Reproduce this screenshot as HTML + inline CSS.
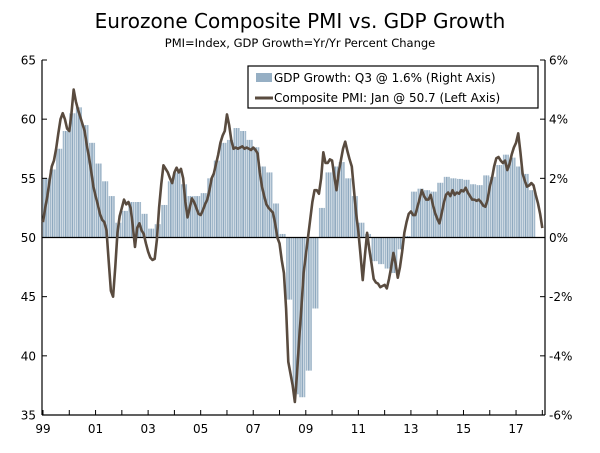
<!DOCTYPE html>
<html><head><meta charset="utf-8"><style>
body{margin:0;background:#fff;}
svg{display:block;font-family:"DejaVu Sans","Liberation Sans",sans-serif;}
</style></head><body>
<svg id="chart" width="600" height="453" viewBox="0 0 600 453">
<text x="300" y="28" text-anchor="middle" font-size="20" fill="#000">Eurozone Composite PMI vs. GDP Growth</text>
<text x="300" y="47" text-anchor="middle" font-size="11.5" fill="#000">PMI=Index, GDP Growth=Yr/Yr Percent Change</text>
<g id="bars"></g>
<g id="axes"></g>
<path id="pmi" fill="none" stroke="#594b3f" stroke-width="2.6" stroke-linejoin="round"/>
<g>
<rect x="248" y="66" width="290" height="42" fill="#fff" stroke="#000" stroke-width="1.2"/>
<rect x="256" y="73" width="16" height="9" fill="#96afc4"/>
<text x="274" y="82" font-size="12">GDP Growth: Q3 @ 1.6% (Right Axis)</text>
<line x1="255" y1="98" x2="273" y2="98" stroke="#594b3f" stroke-width="3"/>
<text x="274" y="102" font-size="12">Composite PMI: Jan @ 50.7 (Left Axis)</text>
</g>
</svg>
<script>
const pmiValues=[
51.3,52.5,53.5,54.8,56,56.5,57.5,58.8,60,60.5,60,59.2,
59,60.5,62.5,61.5,60.8,60.2,59.6,59,57.8,56.8,55.6,54.3,
53.5,52.8,52,51.5,51.3,50.6,48,45.5,45,47.5,50.4,51.8,
52.5,53.2,52.8,53,52.5,51,49.2,50.8,51.2,50.6,50.3,49.5,
48.8,48.3,48.1,48.2,49.8,52.5,54.5,56.1,55.8,55.5,55,54.6,
55.5,55.9,55.5,55.8,55,53,51.7,52.5,53.3,53,52.5,52,
51.9,52.3,52.8,53.2,54,55,55.4,56.2,57,58,58.6,59,
60.4,59.5,58.2,57.5,57.6,57.5,57.6,57.7,57.5,57.6,57.5,57.4,
57.6,57.4,57.1,55.5,54.3,53.5,52.8,52.5,52.3,52.1,51.2,50,
49.5,48.1,47,44,39.5,38.5,37.5,36.1,38.5,41.5,44.1,47,
48.5,50,51.5,53,54,54,53.7,55,57.2,56.3,56.3,56.6,
56.5,55.2,54,55.5,56.5,57.5,58.1,57.3,56.6,56,54,52,
50.5,48.5,46.4,48.5,50.4,49,47.8,46.5,46.2,46.1,45.8,45.9,
46,45.7,46.5,47.5,48.7,47.8,46.6,47.5,48.8,50.4,51.3,52,
52.2,51.9,51.9,52.6,53.3,54,53.5,53.2,53.2,53.6,52.8,52.1,
51.6,51.2,52,52.9,53.6,53.8,53.5,54,53.6,53.8,53.7,54,
53.9,54.2,53.8,53.5,53.2,53.2,53.1,53.2,53,52.7,52.6,53.2,
54.3,55,56,56.7,56.8,56.5,56.3,56.5,55.7,56.2,57,57.6,
58,58.8,57.2,55.4,54.8,54.3,54.4,54.6,54.4,53.6,52.9,52,
50.8];
const gdpValues=[
2.0,2.3,3.0,3.6,4.2,4.4,3.8,3.2,2.5,1.9,1.4,0.5,
0.9,1.2,1.2,0.8,0.3,0.45,1.1,1.9,2.2,1.8,1.4,1.4,
1.5,2.0,2.6,3.2,3.3,3.7,3.6,3.3,3.05,2.4,2.2,1.15,
0.12,-2.1,-5.3,-5.4,-4.5,-2.4,1.0,2.2,2.4,2.55,2.0,1.4,
0.5,0.12,-0.8,-0.9,-1.05,-1.2,-0.4,0.05,1.55,1.65,1.6,1.55,
1.85,2.05,2.0,1.98,1.95,1.8,1.77,2.1,2.05,2.45,2.8,2.7,
2.4,2.15,1.6];
const leftTicks=[35,40,45,50,55,60,65];
const rightTicks=[-6,-4,-2,0,2,4,6];
const yearLabels=["99","01","03","05","07","09","11","13","15","17"];

const X0=43,PX_M=2.19,TOP=60,BOT=415,L=42,R=545;
const xM=m=>X0+m*PX_M;
const yL=v=>TOP+(65-v)*(BOT-TOP)/30;
const yR=v=>TOP+(6-v)*(BOT-TOP)/12;
const NS="http://www.w3.org/2000/svg";
function mk(tag,attrs,parent){const e=document.createElementNS(NS,tag);for(const k in attrs)e.setAttribute(k,attrs[k]);parent.appendChild(e);return e;}

const bars=document.getElementById('bars');
gdpValues.forEach((v,q)=>{
  for(let k=0;k<3;k++){
    const m=q*3+k;
    const x=xM(m);
    const y0=yR(0),y1=yR(v);
    const r=mk('rect',{x:x.toFixed(2),y:Math.min(y0,y1).toFixed(2),width:1.7,height:Math.abs(y1-y0).toFixed(2),fill:k==1?'#8fa9bf':'#a3b9cb'},bars);
    
    
  }
});

const ax=document.getElementById('axes');
let a=mk('line',{x1:L,y1:TOP,x2:L,y2:BOT,stroke:'#000','stroke-width':1.2},ax);

a=mk('line',{x1:R,y1:TOP,x2:R,y2:BOT,stroke:'#000','stroke-width':1.2},ax);

a=mk('line',{x1:L,y1:BOT,x2:R,y2:BOT,stroke:'#000','stroke-width':1.2},ax);

a=mk('line',{x1:L,y1:yR(0),x2:R,y2:yR(0),stroke:'#000','stroke-width':1.2},ax);

leftTicks.forEach(v=>{
  const y=yL(v);
  const t=mk('line',{x1:L,y1:y,x2:L+5,y2:y,stroke:'#000'},ax);
  
  const tx=mk('text',{x:L-6,y:y+4.5,'text-anchor':'end','font-size':12},ax);tx.textContent=v;
  
});
rightTicks.forEach(v=>{
  const y=yR(v);
  const t=mk('line',{x1:R-5,y1:y,x2:R,y2:y,stroke:'#000'},ax);
  
  const tx=mk('text',{x:R+4,y:y+4.5,'font-size':12},ax);tx.textContent=v+'%';
  
});
for(let yr=0;yr<=19;yr++){
  const x=xM(yr*12);
  const t=mk('line',{x1:x,y1:BOT,x2:x,y2:BOT-5,stroke:'#000'},ax);
  
}
yearLabels.forEach((lab,i)=>{
  const x=xM(i*24);
  const tx=mk('text',{x:x,y:BOT+18,'text-anchor':'middle','font-size':12},ax);tx.textContent=lab;
  
});

document.getElementById('pmi').setAttribute('d',pmiValues.map((v,i)=>(i?'L':'M')+xM(i).toFixed(2)+','+yL(v).toFixed(2)).join(''));
</script>
</body></html>
